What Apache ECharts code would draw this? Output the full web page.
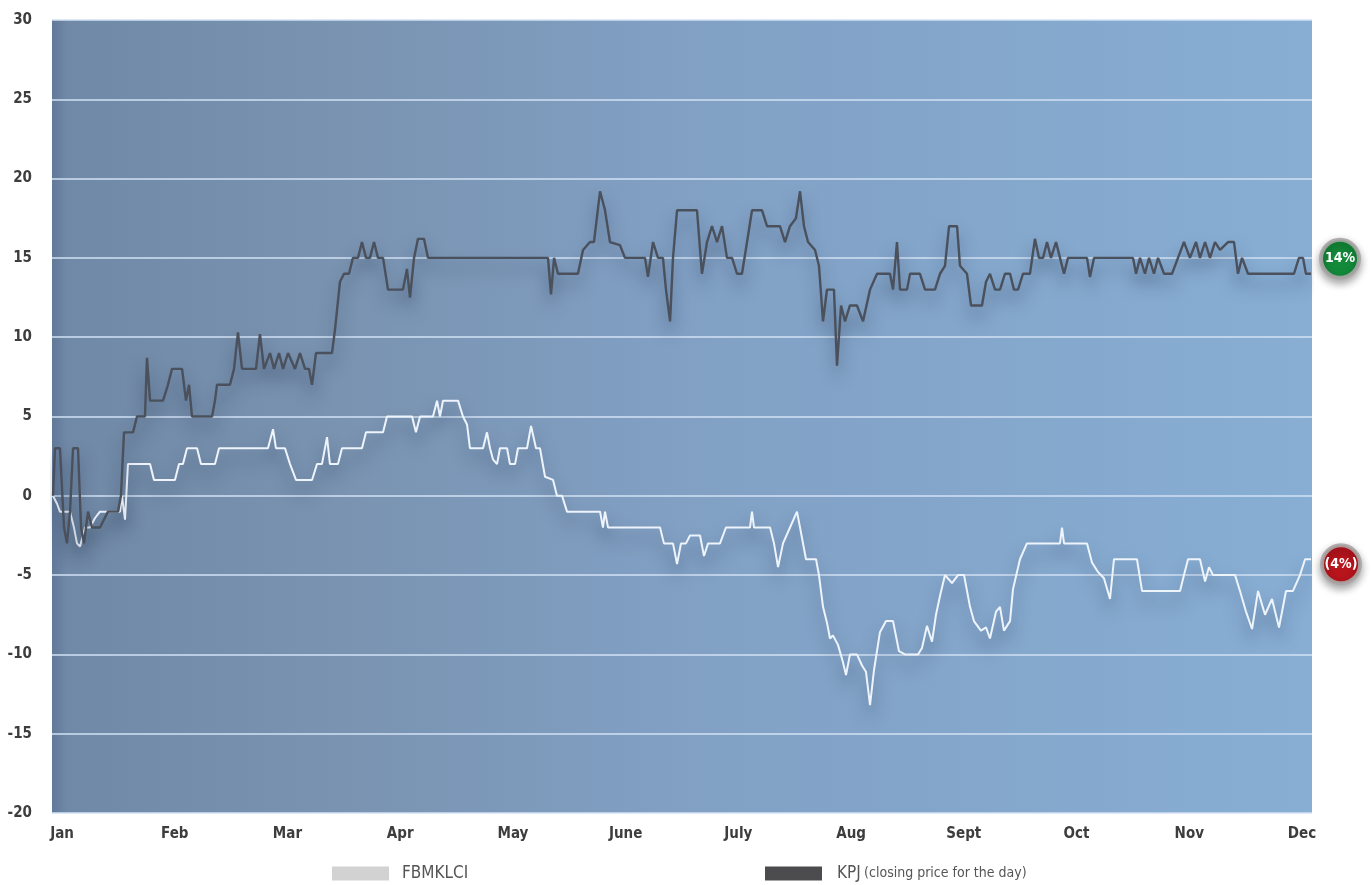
<!DOCTYPE html>
<html><head><meta charset="utf-8">
<script src="https://cdn.jsdelivr.net/npm/echarts@6/dist/echarts.min.js"></script>
<style>html,body{margin:0;padding:0;background:#fff}#c{width:1372px;height:885px}</style>
</head><body><div id="c"></div>
<script>
// month positions: 0 = Jan ... 11 = Dec
const monthLabels = ['Jan','Feb','Mar','Apr','May','June','July','Aug','Sept','Oct','Nov','Dec'];
const yTicks = [-20,-15,-10,-5,0,5,10,15,20,25,30];

// KPJ (% change, closing price for the day)
const kpj = [
 [-0.08,0],[-0.062,3],[-0.018,3],[0.018,-2],[0.044,-3],[0.071,-1],[0.098,3],[0.142,3],[0.169,-2],[0.195,-3],
 [0.231,-1],[0.266,-2],[0.337,-2],[0.408,-1],[0.497,-1],[0.523,0],[0.55,4],[0.63,4],[0.665,5],[0.736,5],
 [0.754,8.7],[0.781,6],[0.896,6],[0.94,7],[0.976,8],[1.065,8],[1.1,6],[1.127,7],[1.153,5],[1.331,5],
 [1.357,6],[1.375,7],[1.49,7],[1.526,8],[1.561,10.3],[1.597,8],[1.721,8],[1.756,10.2],[1.792,8],[1.845,9],
 [1.881,8],[1.925,9],[1.961,8],[2.005,9],[2.067,8],[2.111,9],[2.156,8],[2.191,8],[2.218,7],[2.253,9],
 [2.395,9],[2.422,10.5],[2.466,13.5],[2.502,14],[2.546,14],[2.581,15],[2.626,15],[2.661,16],[2.697,15],[2.732,15],
 [2.768,16],[2.803,15],[2.848,15],[2.892,13],[3.025,13],[3.06,14.3],[3.087,12.5],[3.123,15],[3.158,16.2],[3.211,16.2],
 [3.247,15],[4.311,15],[4.338,12.7],[4.365,15],[4.4,14],[4.577,14],[4.622,15.5],[4.684,16],[4.719,16],[4.773,19.2],
 [4.817,18],[4.861,16],[4.95,15.8],[4.994,15],[5.172,15],[5.198,13.8],[5.243,16],[5.287,15],[5.331,15],[5.358,13],
 [5.394,11],[5.42,15],[5.456,18],[5.633,18],[5.677,14],[5.722,16],[5.766,17],[5.811,16],[5.855,17],[5.899,15],
 [5.944,15],[5.988,14],[6.032,14],[6.077,16],[6.121,18],[6.21,18],[6.254,17],[6.369,17],[6.414,16],[6.458,17],
 [6.511,17.5],[6.547,19.2],[6.582,17],[6.618,16],[6.68,15.5],[6.715,14.5],[6.751,11],[6.786,13],[6.848,13],[6.875,8.2],
 [6.911,12],[6.946,11],[6.99,12],[7.052,12],[7.106,11],[7.168,13],[7.23,14],[7.345,14],[7.372,13],[7.407,16],
 [7.434,13],[7.496,13],[7.523,14],[7.611,14],[7.656,13],[7.744,13],[7.789,14],[7.833,14.5],[7.869,17],[7.94,17],
 [7.966,14.5],[8.028,14],[8.064,12],[8.161,12],[8.197,13.5],[8.232,14],[8.277,13],[8.321,13],[8.365,14],[8.41,14],
 [8.445,13],[8.481,13],[8.525,14],[8.587,14],[8.631,16.2],[8.667,15],[8.703,15],[8.738,16],[8.773,15],[8.818,16],
 [8.853,15],[8.889,14],[8.924,15],[9.093,15],[9.119,13.8],[9.155,15],[9.501,15],[9.528,14],[9.563,15],[9.607,14],
 [9.643,15],[9.687,14],[9.723,15],[9.776,14],[9.847,14],[9.9,15],[9.953,16],[10.006,15],[10.06,16],[10.095,15],
 [10.14,16],[10.184,15],[10.228,16],[10.273,15.5],[10.344,16],[10.397,16],[10.432,14],[10.468,15],[10.521,14],[10.929,14],
 [10.973,15],[11.009,15],[11.035,14],[11.08,14]
];

// FBMKLCI (% change)
const klci = [
 [-0.08,0],[-0.044,-0.5],[-0.018,-1],[0.071,-1],[0.106,-2],[0.133,-3],[0.16,-3.2],[0.204,-2],[0.248,-2],[0.293,-1.4],
 [0.337,-1],[0.515,-1],[0.532,0],[0.559,-1.5],[0.585,2],[0.781,2],[0.816,1],[0.843,1],[1.002,1],[1.038,2],
 [1.073,2],[1.109,3],[1.198,3],[1.233,2],[1.357,2],[1.393,3],[1.827,3],[1.872,4.2],[1.898,3],[1.978,3],
 [2.023,2],[2.076,1],[2.218,1],[2.262,2],[2.306,2],[2.351,3.7],[2.377,2],[2.448,2],[2.484,3],[2.661,3],
 [2.697,4],[2.848,4],[2.883,5],[3.105,5],[3.14,4],[3.176,5],[3.291,5],[3.327,6],[3.353,5],[3.38,6],
 [3.513,6],[3.557,5],[3.593,4.5],[3.619,3],[3.735,3],[3.77,4],[3.797,3],[3.823,2.3],[3.859,2],[3.885,3],
 [3.948,3],[3.974,2],[4.019,2],[4.045,3],[4.125,3],[4.161,4.4],[4.205,3],[4.24,3],[4.285,1.2],[4.356,1],
 [4.391,0],[4.436,0],[4.48,-1],[4.773,-1],[4.799,-2],[4.817,-1],[4.844,-2],[5.305,-2],[5.34,-3],[5.42,-3],
 [5.456,-4.3],[5.491,-3],[5.535,-3],[5.571,-2.5],[5.66,-2.5],[5.695,-3.8],[5.731,-3],[5.837,-3],[5.89,-2],[6.103,-2],
 [6.121,-1],[6.139,-2],[6.281,-2],[6.316,-3],[6.352,-4.5],[6.396,-3],[6.458,-2],[6.52,-1],[6.547,-2],[6.6,-4],
 [6.689,-4],[6.715,-5],[6.751,-7],[6.786,-8],[6.813,-9],[6.839,-8.8],[6.884,-9.4],[6.928,-10.5],[6.955,-11.3],[6.99,-10],
 [7.052,-10],[7.097,-10.7],[7.132,-11.1],[7.168,-13.2],[7.203,-11],[7.256,-8.6],[7.31,-7.9],[7.372,-7.9],[7.425,-9.8],[7.478,-10],
 [7.594,-10],[7.629,-9.6],[7.673,-8.2],[7.718,-9.2],[7.753,-7.5],[7.789,-6.3],[7.833,-5],[7.895,-5.5],[7.948,-5],[8.002,-5],
 [8.055,-7],[8.09,-7.9],[8.152,-8.5],[8.197,-8.3],[8.232,-9],[8.286,-7.3],[8.321,-7],[8.356,-8.5],[8.41,-7.9],[8.436,-5.9],
 [8.498,-4],[8.56,-3],[8.853,-3],[8.871,-2],[8.889,-3],[9.093,-3],[9.137,-4.2],[9.19,-4.8],[9.243,-5.2],[9.297,-6.5],
 [9.332,-4],[9.536,-4],[9.581,-6],[9.918,-6],[9.953,-5],[9.989,-4],[10.095,-4],[10.14,-5.4],[10.175,-4.5],[10.211,-5],
 [10.406,-5],[10.45,-6],[10.503,-7.3],[10.557,-8.4],[10.61,-6],[10.672,-7.5],[10.734,-6.5],[10.796,-8.3],[10.858,-6],[10.92,-6],
 [10.982,-5],[11.027,-4],[11.08,-4]
];

const kpjBadge = '14%';
const klciBadge = '(4%)';

const chart = echarts.init(document.getElementById('c'));
const narrow = "'Liberation Sans Narrow','DejaVu Sans Condensed','Roboto',sans-serif";
const lineShadow = {shadowColor:'rgba(25,40,65,0.5)', shadowBlur:16, shadowOffsetY:11};

chart.setOption({
  animation:false,
  grid:{left:52,right:60,top:20,bottom:72,show:true,borderWidth:0,
    backgroundColor:new echarts.graphic.LinearGradient(0,0,1,0,[
      {offset:0,color:'#62799a'},{offset:0.012,color:'#7089a6'},{offset:0.25,color:'#7a94b2'},
      {offset:0.5,color:'#81a0c4'},{offset:1,color:'#88aed4'}])},
  xAxis:{type:'value',min:-0.0887,max:11.0887,
    axisLine:{show:false},axisTick:{show:false},splitLine:{show:false},
    axisLabel:{customValues:monthLabels.map((m,i)=>i),formatter:v=>monthLabels[Math.round(v)],
      margin:14,fontFamily:narrow,fontWeight:'bold',fontSize:15,color:'#3d3d3d'}},
  yAxis:{type:'value',min:yTicks[0],max:yTicks[yTicks.length-1],interval:5,
    axisLine:{show:false},axisTick:{show:false},
    splitLine:{lineStyle:{color:'rgba(210,226,244,0.75)',width:2}},
    axisLabel:{margin:20,fontFamily:narrow,fontWeight:'bold',fontSize:15,color:'#3d3d3d'}},
  legend:[
    {left:327,top:860,itemWidth:57,itemHeight:14,icon:'rect',
     data:[{name:'FBMKLCI',itemStyle:{color:'#d2d2d2'}}],
     textStyle:{fontFamily:narrow,fontSize:17,color:'#555',padding:[0,0,0,8]}},
    {left:760,top:860,itemWidth:57,itemHeight:14,icon:'rect',
     data:[{name:'KPJ',itemStyle:{color:'#4c4c4e'}}],
     formatter:()=>'{a|KPJ} {b|(closing price for the day)}',
     textStyle:{padding:[0,0,0,10],rich:{a:{fontFamily:narrow,fontSize:17,color:'#555'},b:{fontFamily:narrow,fontSize:14,color:'#555'}}}}
  ],
  series:[
    {name:'FBMKLCI',type:'line',data:klci,showSymbol:false,symbol:'none',z:3,
     itemStyle:{color:'#d2d2d2'},
     lineStyle:Object.assign({color:'#eef4fb',width:2},lineShadow),
     markPoint:{symbol:'circle',symbolSize:38,
       data:[{coord:klci[klci.length-1],symbolOffset:[30,5]}],
       itemStyle:{color:'#b8141c',borderColor:'rgba(170,165,165,0.9)',borderWidth:4,shadowColor:'rgba(0,0,0,0.35)',shadowBlur:8,shadowOffsetY:4},
       label:{show:true,formatter:klciBadge,color:'#fff',fontFamily:narrow,fontWeight:'bold',fontSize:14}}},
    {name:'KPJ',type:'line',data:kpj,showSymbol:false,symbol:'none',z:4,
     itemStyle:{color:'#4c4c4e'},
     lineStyle:Object.assign({color:'#4a505c',width:2.4},lineShadow),
     markPoint:{symbol:'circle',symbolSize:38,
       data:[{coord:kpj[kpj.length-1],symbolOffset:[29,-15]}],
       itemStyle:{color:'#138a3a',borderColor:'rgba(170,165,165,0.9)',borderWidth:4,shadowColor:'rgba(0,0,0,0.35)',shadowBlur:8,shadowOffsetY:4},
       label:{show:true,formatter:kpjBadge,color:'#fff',fontFamily:narrow,fontWeight:'bold',fontSize:14}}}
  ]
});
</script></body></html>
